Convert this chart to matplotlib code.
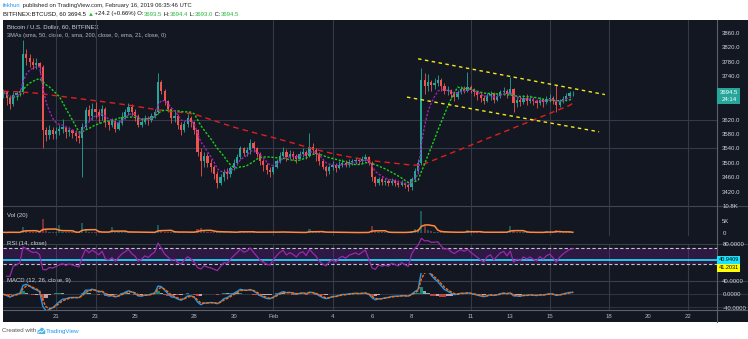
import numpy as np
import pandas as pd
import matplotlib
matplotlib.use("Agg")
import matplotlib.pyplot as plt
import matplotlib.dates as mdates
from matplotlib.patches import Rectangle, Polygon

plt.rcParams['font.family'] = ['Liberation Sans', 'DejaVu Sans']

# ---------------- BITFINEX:BTCUSD, grouped into 4-hour bars ----------------
bar_start = '2019-01-18 08:00'
first_open = 3690.0
close = [
    3695, 3680, 3662, 3688,                      # Jan 18
    3692, 3698, 3800, 3790, 3780, 3772,          # Jan 19
    3775, 3765, 3590, 3578, 3592, 3580,          # Jan 20
    3588, 3595, 3600, 3585, 3590, 3582,          # Jan 21
    3575, 3568, 3600, 3645, 3630, 3650,          # Jan 22
    3640, 3630, 3650, 3612, 3605, 3615,          # Jan 23
    3595, 3610, 3628, 3640, 3655, 3640,          # Jan 24
    3630, 3605, 3612, 3625, 3618, 3630,          # Jan 25
    3640, 3725, 3700, 3670, 3650, 3625,          # Jan 26
    3630, 3605, 3590, 3608, 3625, 3612,          # Jan 27
    3590, 3530, 3505, 3520, 3500, 3490,          # Jan 28
    3470, 3445, 3460, 3475, 3468, 3485,          # Jan 29
    3500, 3515, 3540, 3528, 3535, 3555,          # Jan 30
    3540, 3525, 3505, 3495, 3480, 3475,          # Jan 31
    3490, 3505, 3520, 3530, 3515, 3525,          # Feb 1
    3520, 3512, 3525, 3530, 3520, 3545,          # Feb 2
    3535, 3525, 3505, 3490, 3478, 3488,          # Feb 3
    3495, 3485, 3495, 3500, 3495, 3502,          # Feb 4
    3505, 3508, 3505, 3510, 3515, 3500,          # Feb 5
    3460, 3445, 3455, 3448, 3450, 3445,          # Feb 6
    3450, 3445, 3440, 3445, 3438, 3432,          # Feb 7
    3455, 3478, 3500, 3730, 3712, 3725,          # Feb 8
    3715, 3722, 3730, 3712, 3698, 3702,          # Feb 9
    3690, 3682, 3695, 3705, 3700, 3710,          # Feb 10
    3702, 3695, 3688, 3680, 3672, 3685,          # Feb 11
    3690, 3675, 3685, 3695, 3700, 3690,          # Feb 12
    3705, 3665, 3675, 3668, 3680, 3672,          # Feb 13
    3678, 3670, 3665, 3675, 3668, 3676,          # Feb 14
    3680, 3672, 3660, 3670, 3678, 3685,          # Feb 15
    3692, 3694.5,                                # Feb 16
]
high = [
    3705, 3700, 3688, 3695,
    3700, 3705, 3840, 3815, 3800, 3790,
    3790, 3780, 3772, 3600, 3605, 3598,
    3598, 3605, 3622, 3603, 3600, 3595,
    3592, 3585, 3610, 3655, 3660, 3665,
    3668, 3648, 3660, 3655, 3620, 3625,
    3618, 3620, 3640, 3650, 3665, 3662,
    3648, 3635, 3625, 3632, 3630, 3638,
    3650, 3750, 3728, 3705, 3675, 3655,
    3645, 3635, 3612, 3615, 3635, 3630,
    3615, 3595, 3540, 3530, 3528, 3512,
    3495, 3478, 3470, 3482, 3485, 3492,
    3510, 3525, 3548, 3545, 3545, 3565,
    3560, 3545, 3530, 3512, 3500, 3490,
    3495, 3512, 3530, 3545, 3538, 3535,
    3532, 3525, 3532, 3540, 3535, 3582,
    3555, 3540, 3530, 3510, 3495, 3495,
    3505, 3500, 3505, 3510, 3508, 3510,
    3512, 3515, 3512, 3518, 3525, 3520,
    3505, 3465, 3462, 3460, 3458, 3455,
    3458, 3455, 3452, 3452, 3448, 3442,
    3462, 3485, 3512, 3762, 3750, 3745,
    3730, 3735, 3742, 3735, 3720, 3712,
    3705, 3698, 3702, 3712, 3712, 3752,
    3715, 3708, 3700, 3695, 3688, 3692,
    3698, 3695, 3692, 3702, 3710, 3705,
    3738, 3708, 3685, 3685, 3688, 3690,
    3688, 3682, 3678, 3682, 3680, 3685,
    3690, 3685, 3715, 3678, 3686, 3692,
    3700, 3700,
]
low = [
    3680, 3660, 3650, 3658,
    3675, 3685, 3690, 3770, 3765, 3760,
    3760, 3750, 3540, 3560, 3565, 3565,
    3565, 3578, 3582, 3570, 3575, 3568,
    3560, 3555, 3460, 3595, 3615, 3620,
    3625, 3610, 3620, 3600, 3590, 3598,
    3585, 3590, 3605, 3622, 3632, 3630,
    3615, 3598, 3600, 3608, 3605, 3612,
    3625, 3635, 3690, 3660, 3640, 3610,
    3612, 3595, 3578, 3585, 3600, 3598,
    3580, 3520, 3465, 3490, 3488, 3475,
    3455, 3430, 3438, 3450, 3455, 3462,
    3480, 3495, 3510, 3518, 3520, 3525,
    3530, 3515, 3495, 3478, 3470, 3460,
    3470, 3485, 3500, 3515, 3505, 3510,
    3508, 3500, 3510, 3515, 3512, 3515,
    3525, 3505, 3495, 3482, 3465, 3470,
    3480, 3475, 3482, 3488, 3488, 3490,
    3495, 3498, 3498, 3500, 3505, 3495,
    3450, 3435, 3440, 3438, 3440, 3435,
    3440, 3435, 3432, 3435, 3430, 3422,
    3425, 3450, 3470, 3495, 3690, 3700,
    3700, 3705, 3712, 3700, 3690, 3688,
    3680, 3672, 3678, 3690, 3692, 3695,
    3692, 3685, 3675, 3668, 3662, 3668,
    3675, 3665, 3670, 3680, 3688, 3680,
    3688, 3640, 3655, 3658, 3662, 3660,
    3665, 3660, 3652, 3660, 3655, 3662,
    3668, 3662, 3642, 3655, 3665, 3672,
    3680, 3686,
]
volume_k = [
    0.4, 0.3, 0.5, 0.4,
    0.3, 0.4, 2.6, 1.2, 0.6, 0.4,
    0.4, 0.5, 5.5, 1.4, 0.6, 0.5,
    0.4, 3.2, 0.6, 0.5, 0.4, 0.4,
    0.5, 0.4, 4.2, 1.5, 0.6, 0.5,
    0.5, 0.4, 0.5, 0.6, 0.4, 2.4,
    0.5, 0.4, 0.6, 0.5, 0.7, 0.4,
    0.4, 0.5, 0.4, 0.4, 0.3, 0.4,
    0.4, 3.2, 1.0, 0.6, 0.5, 0.6,
    0.4, 0.5, 0.6, 0.4, 0.4, 0.4,
    0.5, 1.8, 2.2, 0.8, 0.6, 0.5,
    0.6, 0.9, 0.5, 0.4, 0.4, 0.5,
    0.5, 0.4, 1.1, 0.5, 0.4, 0.6,
    0.4, 0.4, 0.5, 0.5, 0.4, 0.6,
    0.5, 0.4, 0.5, 0.6, 0.4, 0.4,
    0.3, 0.3, 0.4, 0.4, 0.3, 1.6,
    0.5, 0.4, 0.5, 0.4, 0.6, 0.4,
    0.3, 0.4, 0.3, 0.3, 0.3, 0.3,
    0.3, 0.3, 0.3, 0.4, 0.4, 0.3,
    3.0, 0.8, 0.5, 0.4, 0.4, 0.3,
    0.3, 0.4, 0.3, 0.4, 0.3, 0.5,
    0.8, 1.9, 1.6, 9.0, 3.0, 1.2,
    0.8, 0.6, 0.6, 0.5, 0.5, 0.4,
    0.4, 0.4, 0.4, 0.5, 0.4, 1.4,
    0.5, 0.4, 0.4, 0.5, 0.4, 0.4,
    0.4, 0.5, 0.4, 0.4, 0.5, 0.4,
    2.8, 1.2, 0.5, 0.4, 0.4, 0.4,
    0.4, 0.3, 0.4, 0.3, 0.4, 1.0,
    0.4, 0.4, 1.2, 0.5, 0.4, 0.4,
    0.4, 0.3,
]

# 200-hour SMA, sampled once a day
sma200_dates = ['2019-01-18 08:00', '2019-01-19', '2019-01-20', '2019-01-21', '2019-01-22',
                '2019-01-23', '2019-01-24', '2019-01-25', '2019-01-26', '2019-01-27',
                '2019-01-28', '2019-01-29', '2019-01-30', '2019-01-31', '2019-02-01',
                '2019-02-02', '2019-02-03', '2019-02-04', '2019-02-05', '2019-02-06',
                '2019-02-07', '2019-02-08', '2019-02-08 12:00', '2019-02-09', '2019-02-10',
                '2019-02-11', '2019-02-12', '2019-02-13', '2019-02-14', '2019-02-15',
                '2019-02-16', '2019-02-16 04:00']
sma200_vals = [3698, 3697, 3693, 3686, 3679, 3672, 3665, 3657, 3648, 3642,
               3635, 3617, 3599, 3584, 3570, 3555, 3539, 3526, 3515, 3506,
               3500, 3494, 3494, 3505, 3527, 3549, 3571, 3593, 3615, 3637,
               3659, 3665]

# hand-drawn descending channel
channel_upper_dates = ['2019-02-08 08:00', '2019-02-17 19:00']
channel_upper_price = [3788, 3689]
channel_lower_dates = ['2019-02-07 18:30', '2019-02-17 12:00']
channel_lower_price = [3682, 3586]

price_ticks = list(range(3420, 3861, 40))
price_grid = [3540, 3620]
date_ticks = ['2019-01-21', '2019-01-23', '2019-01-25', '2019-01-28', '2019-01-30',
              '2019-02-01', '2019-02-04', '2019-02-06', '2019-02-08', '2019-02-11',
              '2019-02-13', '2019-02-15', '2019-02-18', '2019-02-20', '2019-02-22']
date_labels = ['21', '23', '25', '28', '30', 'Feb', '4', '6', '8', '11', '13', '15',
               '18', '20', '22']
grid_dates = ['2019-01-21', '2019-01-23', '2019-02-01', '2019-02-04', '2019-02-11',
              '2019-02-15', '2019-02-18', '2019-02-22']

rsi_band = (30, 70)
rsi_level = 41.0
rsi_level_label = '40.9409'
rsi_value_label = '41.2031'


def to_num(dates):
    return mdates.date2num(pd.to_datetime(dates, format='mixed'))


# ---------------- derived series ----------------
n = len(close)
t = mdates.date2num(pd.date_range(bar_start, periods=n, freq='4h'))
c = pd.Series(close, dtype=float)
o = pd.Series([first_open] + close[:-1], dtype=float)
hi = np.maximum(np.array(high, float), np.maximum(o, c))
lo = np.minimum(np.array(low, float), np.minimum(o, c))
up = (c >= o).values

sma50 = c.rolling(12, min_periods=1).mean()
ema21 = c.ewm(span=21 / 4, adjust=False).mean()
vol = pd.Series(volume_k, dtype=float)
vol_ma = vol.rolling(5, min_periods=1).mean()


def wilder_rsi(s, period):
    d = s.diff()
    g = d.clip(lower=0).ewm(alpha=1 / period, adjust=False).mean()
    l_ = (-d.clip(upper=0)).ewm(alpha=1 / period, adjust=False).mean()
    return 100 - 100 / (1 + g / l_)


rsi = wilder_rsi(c, 6)
macd = c.ewm(span=3, adjust=False).mean() - c.ewm(span=6.5, adjust=False).mean()
signal = macd.ewm(span=2.25, adjust=False).mean()
hist = macd - signal

# ---------------- figure layout (pixel grid) ----------------
W, H = 748, 339
BG = '#131722'
GRID = '#363a47'
TXT = '#d1d4dc'
UP, DN = '#26a69a', '#ef5350'
fig = plt.figure(figsize=(W / 100, H / 100), dpi=100)
fig.patch.set_facecolor('white')

bg = fig.add_axes([0, 0, 1, 1], zorder=0)
bg.set_xlim(0, W)
bg.set_ylim(H, 0)
bg.axis('off')
bg.add_patch(Rectangle((2.7, 19.5), W - 2.7, 322 - 19.5, color=BG, lw=0))

X0, X1 = 2.7, 716.7


def pane(y0, y1):
    a = fig.add_axes([X0 / W, 1 - y1 / H, (X1 - X0) / W, (y1 - y0) / H], zorder=2)
    a.patch.set_visible(False)
    for s in a.spines.values():
        s.set_visible(False)
    return a


ax = pane(19.5, 206)
axv = pane(206, 236)
axr = pane(236, 281)
axm = pane(273, 310)

jan21 = mdates.date2num(pd.Timestamp('2019-01-21'))
px_day = 19.75
xl = (jan21 - (56 - X0) / px_day, jan21 + (X1 - 56) / px_day)
gd = to_num(grid_dates)
for a in (ax, axv, axr, axm):
    a.set_xlim(*xl)
    a.set_xticks([])
for a in (ax, axv, axm):
    for g in gd:
        a.axvline(g, color=GRID, lw=0.8, zorder=0)

# separators
for yy, col in [(206, '#434651'), (244, '#3a3e4a'), (281, '#3a3e4a'),
                (294.3, '#2f333e'), (307.3, '#2f333e'), (310, '#5d606b')]:
    bg.plot([X0, W], [yy, yy], color=col, lw=0.8)
bg.plot([X1, X1], [19.5, 322], color='#5d606b', lw=0.8)

# ---------------- price pane ----------------
ax.set_ylim(3380.8, 3896.7)
for p in price_grid:
    ax.axhline(p, color=GRID, lw=0.8, zorder=0)
bw = 0.67 * 4 / 24
cols = np.where(up, UP, DN)
ax.vlines(t, lo, hi, colors=cols, lw=0.6, zorder=3)
body_lo = np.minimum(o, c)
body_h = np.maximum(np.abs(c - o), 1.6)
ax.bar(t, body_h, bottom=body_lo, width=bw, color=cols, lw=0, zorder=4)

ax.plot(to_num(sma200_dates), sma200_vals, color='#e01e1e',
        lw=1.0, ls=(0, (4, 3)), zorder=5)
ax.plot(t, sma50, color='#19d219', lw=1.0, ls=(0, (1.6, 1.2)), zorder=5)
ax.plot(t, ema21, color='#a020b8', lw=1.0, ls=(0, (1.6, 1.2)), zorder=5)

ax.plot(to_num(channel_upper_dates), channel_upper_price,
        color='#f5ea1a', lw=1.0, ls=(0, (2.5, 2.5)), zorder=6)
ax.plot(to_num(channel_lower_dates), channel_lower_price,
        color='#f5ea1a', lw=1.0, ls=(0, (2.5, 2.5)), zorder=6)

# last price tag position; scale labels hidden behind it are left out
py = H - ax.transData.transform((t[-1], close[-1]))[1]
tag_top, tag_bot = py - 4.5, py + 11
shown = [p for p in price_ticks
         if not (tag_top - 4 < H - ax.transData.transform((t[-1], p))[1] < tag_bot + 4)]
ax.yaxis.tick_right()
ax.set_yticks(shown)
ax.set_yticklabels([f'{p:.1f}' for p in shown])
ax.tick_params(axis='y', length=0, pad=4, labelsize=4.3, labelcolor=TXT)

bg.add_patch(Rectangle((X1 + 0.3, tag_top), 23.5, tag_bot - tag_top, color=UP, lw=0, zorder=5))
bg.text(X1 + 12, py - 0.5, f'{close[-1]:.1f}', color='white', fontsize=4.3,
        ha='center', va='center', zorder=6)
bg.text(X1 + 13, py + 6.5, '24:14', color='white', fontsize=4.3, ha='center',
        va='center', zorder=6)

# ---------------- volume pane ----------------
axv.set_ylim(-1.07, 10.83)
axv.bar(t, vol, width=bw, color=np.where(up, UP, DN), alpha=0.45, lw=0, zorder=3)
axv.plot(t, vol_ma, color='#ff8a3d', lw=1.1, zorder=4)
axv.yaxis.tick_right()
axv.set_yticks([0, 5, 10.8])
axv.set_yticklabels(['0', '5K', '10.8K'])
axv.tick_params(axis='y', length=0, pad=4, labelsize=4.3, labelcolor=TXT)

# ---------------- RSI pane ----------------
axr.set_ylim(-11.75, 100.75)
for g in gd:
    axr.plot([g, g], [-11.75, 80], color=GRID, lw=0.8, zorder=0)
axr.axhspan(rsi_band[0], rsi_band[1], color='#7b1fa2', alpha=0.25, lw=0, zorder=1)
for lvl in rsi_band:
    axr.axhline(lvl, color='#c5c5d2', lw=0.8, ls=(0, (3, 2)), zorder=2)
axr.axhline(rsi_level, color='#1fd7f0', lw=1.3, zorder=3)
axr.plot(t, rsi, color='#9c27b0', lw=0.9, zorder=4)
axr.yaxis.tick_right()
axr.set_yticks([80])
axr.set_yticklabels(['80.0000'])
axr.tick_params(axis='y', length=0, pad=4, labelsize=4.3, labelcolor=TXT)
ry = H - axr.transData.transform((t[-1], rsi_level))[1]
bg.add_patch(Rectangle((X1 + 0.3, ry - 3.8), 23.5, 7.6, color='#18e4ff', lw=0, zorder=5))
bg.text(X1 + 12, ry, rsi_level_label, color='black', fontsize=4.0, ha='center',
        va='center', zorder=6)
bg.add_patch(Rectangle((X1 + 0.3, ry + 4.0), 23.5, 7.6, color='#ffff00', lw=0, zorder=5))
bg.text(X1 + 12, ry + 7.8, rsi_value_label, color='black', fontsize=4.0, ha='center',
        va='center', zorder=6)

# ---------------- MACD pane ----------------
axm.set_ylim(-47.2, 64.1)
prev = hist.shift(1).fillna(0)
hcol = np.where(hist >= 0, np.where(hist >= prev, '#26a69a', '#b2dfdb'),
                np.where(hist < prev, '#ef5350', '#ffcdd2'))
axm.bar(t, hist, width=4 / 24, color=hcol, alpha=0.75, lw=0, zorder=2)
axm.plot(t, macd, color='#2196f3', lw=1.0, zorder=3)
axm.plot(t, signal, color='#ff6d00', lw=1.0, ls=(0, (2, 1)), zorder=4)
axm.yaxis.tick_right()
axm.set_yticks([40, 0, -40])
axm.set_yticklabels(['40.0000', '0.0000', '-40.0000'])
axm.tick_params(axis='y', length=0, pad=4, labelsize=4.3, labelcolor=TXT)

# time axis labels under the last pane
axm.set_xticks(to_num(date_ticks))
axm.set_xticklabels(date_labels)
axm.tick_params(axis='x', length=0, pad=3, labelsize=4.3, labelcolor='#b2b5be')

# ---------------- text ----------------
bg.text(7, 26.8, 'Bitcoin / U.S. Dollar, 60, BITFINEX', color=TXT, fontsize=4.3,
        va='center', zorder=6)
bg.text(7, 35, '3MAs (sma, 50, close, 0, sma, 200, close, 0, ema, 21, close, 0)',
        color='#b8bcc8', fontsize=4.1, va='center', zorder=6)
bg.text(7, 215.7, 'Vol (20)', color=TXT, fontsize=4.3, va='center', zorder=6)
bg.text(7, 243.5, 'RSI (14, close)', color=TXT, fontsize=4.3, va='center', zorder=6)
bg.text(7, 280.5, 'MACD (12, 26, close, 9)', color=TXT, fontsize=4.3, va='center', zorder=6)

renderer = fig.canvas.get_renderer()


def run_text(x, y, parts, size):
    for s, col in parts:
        tx = bg.text(x, y, s, color=col, fontsize=size, va='center', ha='left', zorder=6)
        x += tx.get_window_extent(renderer=renderer).width
    return x


run_text(3, 5.7, [('fekhun', '#2196f3'),
                  (' published on TradingView.com, February 16, 2019 06:35:46 UTC', '#222222')], 4.2)
GRN = '#28b83c'
run_text(3, 14, [('BITFINEX:BTCUSD, 60 3694.5 ', '#111111'), ('\u25b2', GRN),
                 (' +24.2 (+0.66%) O:', '#111111'), ('3693.5', GRN),
                 (' H:', '#111111'), ('3694.4', GRN), (' L:', '#111111'), ('3693.0', GRN),
                 (' C:', '#111111'), ('3694.5', GRN)], 4.3)

# footer
xe = run_text(2, 331, [('Created with', '#555555')], 4.4)
cloud = Polygon([(xe + 1, 334), (xe + 1.5, 330.5), (xe + 3.5, 329.5), (xe + 5, 327.5),
                 (xe + 7.5, 328.5), (xe + 9, 331), (xe + 9, 334)],
                closed=True, color='#4fb4e6', lw=0, zorder=6)
bg.add_patch(cloud)
bg.plot([xe + 2, xe + 4, xe + 5.5, xe + 8], [333, 331, 332.3, 329.8], color='white',
        lw=0.6, zorder=7)
run_text(xe + 9.5, 331, [('TradingView', '#2196f3')], 4.4)

fig.savefig('out.png', dpi=100, facecolor='white')
